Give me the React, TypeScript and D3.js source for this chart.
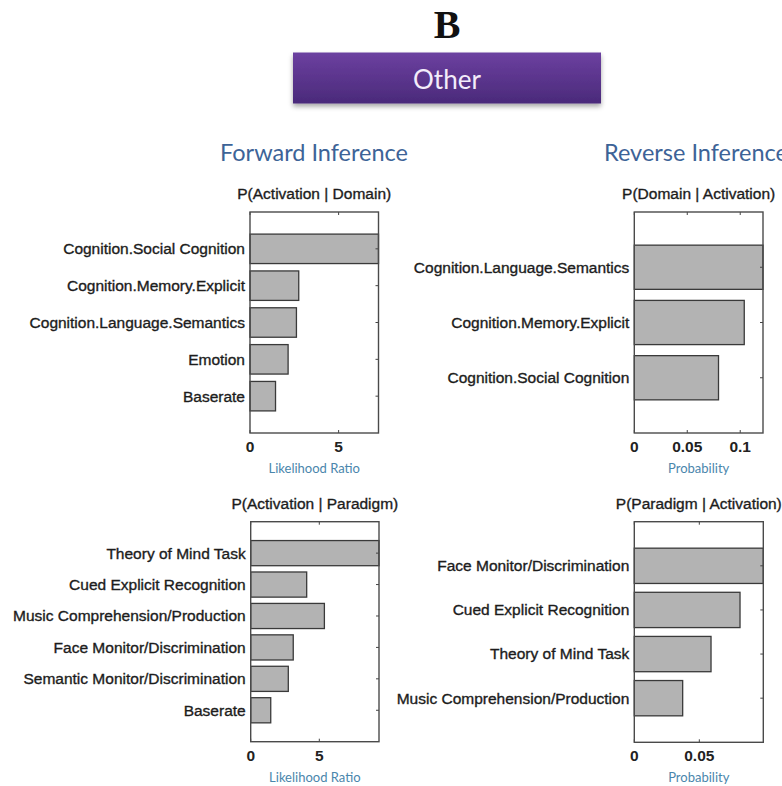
import React from "react";
import * as d3 from "d3";

// ---- Data ----
const fwdDomainLabels = [
  "Cognition.Social Cognition",
  "Cognition.Memory.Explicit",
  "Cognition.Language.Semantics",
  "Emotion",
  "Baserate",
];
const fwdDomainValues = [7.25, 2.75, 2.62, 2.15, 1.44];
const fwdDomainTicks = [0, 5];

const revDomainLabels = [
  "Cognition.Language.Semantics",
  "Cognition.Memory.Explicit",
  "Cognition.Social Cognition",
];
const revDomainValues = [0.1215, 0.1038, 0.0795];
const revDomainTicks = [0, 0.05, 0.1];

const fwdParadigmLabels = [
  "Theory of Mind Task",
  "Cued Explicit Recognition",
  "Music Comprehension/Production",
  "Face Monitor/Discrimination",
  "Semantic Monitor/Discrimination",
  "Baserate",
];
const fwdParadigmValues = [9.35, 4.08, 5.37, 3.1, 2.74, 1.46];
const fwdParadigmTicks = [0, 5];

const revParadigmLabels = [
  "Face Monitor/Discrimination",
  "Cued Explicit Recognition",
  "Theory of Mind Task",
  "Music Comprehension/Production",
];
const revParadigmValues = [0.0992, 0.0813, 0.059, 0.0372];
const revParadigmTicks = [0, 0.05];

const panelTitles = [
  "P(Activation | Domain)",
  "P(Domain | Activation)",
  "P(Activation | Paradigm)",
  "P(Paradigm | Activation)",
];
const axisTitles = ["Likelihood Ratio", "Probability", "Likelihood Ratio", "Probability"];

const SANS = "'Liberation Sans', Arial, sans-serif";
const HUMAN = "Lato, 'Open Sans', sans-serif";

type PanelProps = {
  labels: string[];
  values: number[];
  ticks: number[];
  title: string;
  xTitle: string;
  box: { x0: number; x1: number; y0: number; y1: number };
};

const textHeavy = { stroke: "#222", strokeWidth: 0.35 };

function Panel({ labels, values, ticks, title, xTitle, box }: PanelProps) {
  const { x0, x1, y0, y1 } = box;
  const x = d3.scaleLinear().domain([0, d3.max(values) as number]).range([x0, x1]);
  const y = d3.scaleLinear().domain([0, labels.length + 1]).range([y0, y1]);
  const bh = y(0.8) - y(0);
  const cx = (x0 + x1) / 2;
  const tl = 3;
  const fmt = (v: number) => (v === 0 ? "0" : String(v));
  return (
    <g>
      <text x={cx} y={y0 - 13} textAnchor="middle" fontFamily={SANS} fontSize={15.5} fill="#1a1a1a" {...textHeavy}>
        {title}
      </text>
      {values.map((v, i) => (
        <rect
          key={i}
          x={x(0)}
          y={y(i + 1) - bh / 2}
          width={x(v) - x(0)}
          height={bh}
          fill="#b3b3b3"
          stroke="#3a3a3a"
          strokeWidth={1.3}
        />
      ))}
      {labels.map((l, i) => (
        <text
          key={i}
          x={x0 - 5}
          y={y(i + 1)}
          dy="0.35em"
          textAnchor="end"
          fontFamily={SANS}
          fontSize={15.5}
          fill="#1a1a1a"
          {...textHeavy}
        >
          {l}
        </text>
      ))}
      {ticks.map((t, i) => (
        <g key={i}>
          <line x1={x(t)} x2={x(t)} y1={y0} y2={y0 + tl} stroke="#444" strokeWidth={1} />
          <line x1={x(t)} x2={x(t)} y1={y1} y2={y1 - tl} stroke="#444" strokeWidth={1} />
          <text
            x={x(t)}
            y={y1 + 19}
            textAnchor="middle"
            fontFamily={SANS}
            fontSize={15.5}
            fontWeight="bold"
            fill="#222"
          >
            {fmt(t)}
          </text>
        </g>
      ))}
      {labels.map((_, i) => (
        <line key={i} x1={x1} x2={x1 - tl} y1={y(i + 1)} y2={y(i + 1)} stroke="#444" strokeWidth={1} />
      ))}
      <rect x={x0} y={y0} width={x1 - x0} height={y1 - y0} fill="none" stroke="#4a4a4a" strokeWidth={1.4} />
      <text x={cx} y={y1 + 40} textAnchor="middle" fontFamily={HUMAN} fontSize={13} fill="#4a86ac">
        {xTitle}
      </text>
    </g>
  );
}

export default function App() {
  return (
    <svg
      width={782}
      height={786}
      style={{ position: "absolute", left: 0, top: 0, background: "#fff" }}
    >
      <defs>
        <linearGradient id="pg" x1="0" y1="0" x2="0" y2="1">
          <stop offset="0" stopColor="#6c40a0" />
          <stop offset="1" stopColor="#4a2a7a" />
        </linearGradient>
        <filter id="sh" x="-10%" y="-30%" width="120%" height="180%">
          <feDropShadow dx="0" dy="3" stdDeviation="2.5" floodColor="#000" floodOpacity="0.35" />
        </filter>
      </defs>
      <text
        x={447}
        y={38}
        textAnchor="middle"
        fontFamily="'Liberation Serif', 'Times New Roman', serif"
        fontWeight="bold"
        fontSize={40}
        fill="#111"
      >
        B
      </text>
      <rect x={293} y={52.5} width={308} height={51} fill="url(#pg)" filter="url(#sh)" />
      <text x={447} y={89} textAnchor="middle" fontFamily={HUMAN} fontSize={26} fill="#f3ecfa">
        Other
      </text>
      <text x={220} y={161} fontFamily={HUMAN} fontSize={23.5} fill="#3d6397">
        Forward Inference
      </text>
      <text x={604} y={161} fontFamily={HUMAN} fontSize={23.5} fill="#3d6397">
        Reverse Inference
      </text>
      <Panel
        labels={fwdDomainLabels}
        values={fwdDomainValues}
        ticks={fwdDomainTicks}
        title={panelTitles[0]}
        xTitle={axisTitles[0]}
        box={{ x0: 250, x1: 378.5, y0: 212, y1: 433 }}
      />
      <Panel
        labels={revDomainLabels}
        values={revDomainValues}
        ticks={revDomainTicks}
        title={panelTitles[1]}
        xTitle={axisTitles[1]}
        box={{ x0: 634.3, x1: 763, y0: 212, y1: 433 }}
      />
      <Panel
        labels={fwdParadigmLabels}
        values={fwdParadigmValues}
        ticks={fwdParadigmTicks}
        title={panelTitles[2]}
        xTitle={axisTitles[2]}
        box={{ x0: 250.7, x1: 379, y0: 521.7, y1: 741.7 }}
      />
      <Panel
        labels={revParadigmLabels}
        values={revParadigmValues}
        ticks={revParadigmTicks}
        title={panelTitles[3]}
        xTitle={axisTitles[3]}
        box={{ x0: 634.3, x1: 763.3, y0: 521.7, y1: 742.3 }}
      />
    </svg>
  );
}
